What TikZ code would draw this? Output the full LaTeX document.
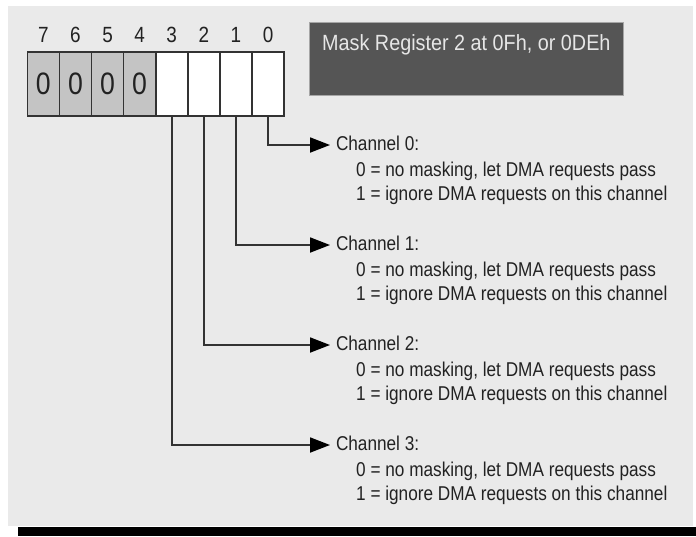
\documentclass[tikz,border=0pt]{standalone}
\usepackage{fontspec}
\setmainfont{Liberation Sans}
\newfontfamily\narrowfont[FakeStretch=0.86]{Liberation Sans}
\newfontfamily\titlefont[FakeStretch=0.9]{Liberation Sans}
\usetikzlibrary{arrows.meta}
\definecolor{bgpanel}{HTML}{EAEAEA}
\definecolor{darkbox}{HTML}{555555}
\definecolor{bitgrey}{HTML}{C4C4C4}
\definecolor{linecol}{HTML}{333333}
\definecolor{textcol}{HTML}{222222}
\definecolor{titletext}{HTML}{E6E6E6}
\tikzset{
  bitbox/.style={draw=linecol, line width=1.6pt, minimum width=32.1pt, minimum height=64pt,
    inner sep=0pt, outer sep=0pt, anchor=north west, font=\narrowfont\fontsize{31}{31}\selectfont, text=textcol},
  bitnum/.style={font=\narrowfont\fontsize{22}{22}\selectfont, text=textcol, inner sep=0pt},
  chan/.style={font=\narrowfont\fontsize{20}{24}\selectfont, text=textcol, anchor=west,
    inner xsep=6pt, inner ysep=0pt, outer sep=0pt, text height=14pt, text depth=4pt},
  desc/.style={font=\narrowfont\fontsize{20}{24}\selectfont, text=textcol, anchor=west,
    inner sep=0pt, text height=14pt, text depth=4pt},
  conn/.style={draw=linecol, line width=1.8pt, -{Triangle[length=20pt,width=15pt,fill=black,color=black]}},
}
\begin{document}
\begin{tikzpicture}[x=1pt,y=-1pt]
\useasboundingbox (0,0) rectangle (696,536);
\fill[white] (0,0) rectangle (696,536);
\fill[bgpanel] (8,6) rectangle (693,526);
\fill[black] (18,527) rectangle (696,536);
% title box
\node[draw=gray!70, line width=0.8pt, fill=darkbox, minimum width=314pt, minimum height=73pt,
  anchor=north west, inner sep=0pt] (title) at (309,22) {};
\node[font=\titlefont\fontsize{22}{22}\selectfont, text=titletext, anchor=west, inner sep=0pt]
  (titletxt) at (322,45) {Mask Register 2 at 0Fh, or 0DEh};
% bits
\node[bitbox, fill=bitgrey] (b7) at (27.3,52) {0};
\node[bitbox, fill=bitgrey] (b6) at (b7.north east) {0};
\node[bitbox, fill=bitgrey] (b5) at (b6.north east) {0};
\node[bitbox, fill=bitgrey] (b4) at (b5.north east) {0};
\node[bitbox, fill=white] (b3) at (b4.north east) {};
\node[bitbox, fill=white] (b2) at (b3.north east) {};
\node[bitbox, fill=white] (b1) at (b2.north east) {};
\node[bitbox, fill=white] (b0) at (b1.north east) {};
\foreach \b in {7,6,5,4,3,2,1,0}{
  \node[bitnum] (n\b) at ([yshift=17pt]b\b.north) {\b};
}
% channels
\foreach \c/\y in {0/145,1/245,2/345,3/445}{
  \node[chan] (c\c) at (330,\y) {Channel \c:};
  \node[desc] (d\c a) at (356,\y+26) {0 = no masking, let DMA requests pass};
  \node[desc] (d\c b) at (356,\y+50) {1 = ignore DMA requests on this channel};
}
\draw[conn] (b0.south) |- (c0.west);
\draw[conn] (b1.south) |- (c1.west);
\draw[conn] (b2.south) |- (c2.west);
\draw[conn] (b3.south) |- (c3.west);
\end{tikzpicture}
\end{document}
